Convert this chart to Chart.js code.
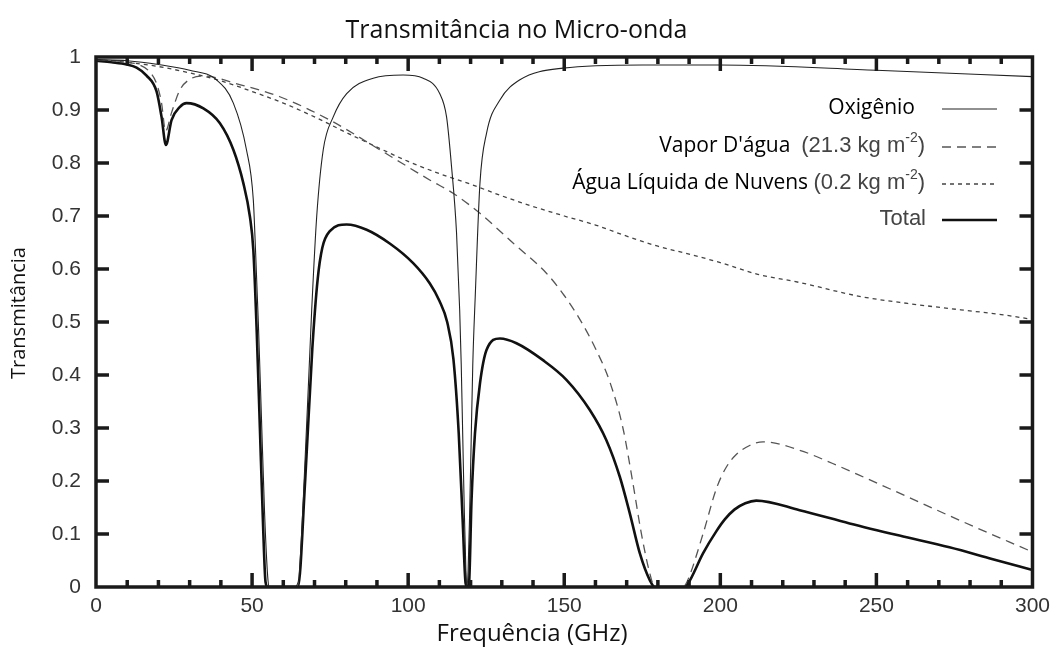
<!DOCTYPE html>
<html>
<head>
<meta charset="utf-8">
<title>Transmitância no Micro-onda</title>
<script src="https://cdn.jsdelivr.net/npm/chart.js@4.4.1/dist/chart.umd.min.js"></script>
<style>
  html, body { margin: 0; padding: 0; background: #fff; }
  #wrap { width: 1057px; height: 650px; }
</style>
</head>
<body>
<div id="wrap"><canvas id="grafico" width="1057" height="650"></canvas></div>
<script>
// Oxigênio
var oxFreq = [0, 10, 20, 30, 38.6, 44, 48.2, 50.4, 51.1, 52, 53, 54, 55, 55.5,
    63.5, 64.8, 66.4, 69.1, 70.7, 72.8, 76, 80.3, 88.8, 98.4, 104.8, 110.1, 112.3, 113.9, 115.5, 116.5,
    117, 117.5, 118, 118.5, 118.8, 119.2, 119.7, 120.2, 120.7, 121.5, 123, 125.1, 129.4, 135.8, 149.6,
    175, 199.8, 250, 300];
var oxVal = [0.995, 0.993, 0.986, 0.975, 0.957, 0.913, 0.825, 0.73, 0.636, 0.5, 0.32, 0.14, 0.02, 0,
    0, 0.01, 0.164, 0.523, 0.699, 0.825, 0.887, 0.931, 0.96, 0.966, 0.96, 0.931, 0.887, 0.793, 0.668, 0.523,
    0.42, 0.28, 0.14, 0.03, 0, 0.03, 0.14, 0.28, 0.42, 0.55, 0.762, 0.856, 0.919, 0.957, 0.979,
    0.985, 0.985, 0.975, 0.963];

// Vapor d'água
var h2oFreq = [0, 10, 14, 16.7, 19.4, 21, 22.3, 24.2, 26.9, 30.1, 34.4, 46, 58.9, 74.9, 90.9, 106.9,
    114.4, 123, 133.6, 144.3, 150, 155, 160, 164.6, 168.8, 172, 174.7, 177.4, 179, 188, 189.1,
    194.5, 198.7, 201.8, 205.1, 209.4, 213.7, 225.4, 236, 246.8, 257.4, 276.6, 300];
var h2oVal = [0.995, 0.99, 0.985, 0.975, 0.95, 0.913, 0.86, 0.895, 0.938, 0.958, 0.964, 0.948, 0.925, 0.881, 0.825, 0.768,
    0.743, 0.705, 0.649, 0.592, 0.55, 0.505, 0.45, 0.387, 0.3, 0.196, 0.101, 0.026, 0, 0, 0.007,
    0.101, 0.185, 0.225, 0.25, 0.267, 0.274, 0.258, 0.233, 0.205, 0.177, 0.126, 0.066];

// Água líquida de nuvens
var nuvFreq = [0, 10, 20, 30, 40, 50, 60, 70, 80, 90, 100, 110, 120, 130, 140, 150, 160, 170, 180,
    190, 200, 212, 225, 245, 260, 277, 290, 300];
var nuvVal = [0.995, 0.99, 0.982, 0.97, 0.955, 0.935, 0.913, 0.887, 0.858, 0.83, 0.803, 0.78, 0.76, 0.738,
    0.718, 0.7, 0.683, 0.662, 0.643, 0.628, 0.612, 0.59, 0.575, 0.548, 0.535, 0.523, 0.514, 0.505];

// Total
var totFreq = [0, 5, 9.8, 13, 16.2, 19.4, 21, 22.4, 24.2, 26.9, 29, 34.4, 39.7, 44, 47.2, 49.3, 50.4,
    51.5, 52.5, 53.5, 54.3, 55, 64.7, 67, 69.3, 71, 72.5, 75, 80.3, 86.7, 94.1, 101.6, 106.9, 110,
    112.5, 114.5, 116.2, 117.5, 118.4, 119, 119.5, 120.3, 121.4, 123, 125.1, 129.4, 134.7, 143.2, 150.7,
    158.2, 163.5, 167.8, 171, 174.2, 177.4, 179, 188.5, 189.7, 194.5, 198.7, 201.5, 204.5, 208, 211.5, 225.4, 241.4,
    257.4, 273.4, 287, 300];
var totVal = [0.993, 0.99, 0.986, 0.98, 0.965, 0.935, 0.887, 0.834, 0.881, 0.906, 0.913, 0.903, 0.875, 0.825, 0.762, 0.699, 0.636,
    0.48, 0.3, 0.12, 0.01, 0, 0, 0.2, 0.45, 0.58, 0.64, 0.672, 0.684, 0.674, 0.648, 0.611, 0.573, 0.54,
    0.5, 0.43, 0.29, 0.12, 0.007, 0, 0.007, 0.164, 0.29, 0.384, 0.447, 0.469, 0.46, 0.428, 0.391,
    0.334, 0.277, 0.208, 0.139, 0.064, 0.013, 0, 0, 0.007, 0.064, 0.105, 0.128, 0.146, 0.158, 0.163, 0.145, 0.12,
    0.097, 0.075, 0.053, 0.032];

var xTicksMaiores = [50, 100, 150, 200, 250];
var xTicksMenores = [10, 20, 30, 40, 60, 70, 80, 90, 110, 120, 130, 140, 160, 170, 180, 190, 210, 220, 230, 240, 260, 270, 280, 290];
var yTicks = [0.1, 0.2, 0.3, 0.4, 0.5, 0.6, 0.7, 0.8, 0.9];

function pontos(xs, ys) {
    var out = [];
    for (var i = 0; i < xs.length; i++) out.push({x: xs[i], y: ys[i]});
    return out;
}

var series = [
    {label: 'Oxigênio', data: pontos(oxFreq, oxVal), borderColor: '#222', borderWidth: 1.1, borderDash: []},
    {label: "Vapor D'água", data: pontos(h2oFreq, h2oVal), borderColor: '#555', borderWidth: 1.3, borderDash: [9, 6]},
    {label: 'Água Líquida de Nuvens', data: pontos(nuvFreq, nuvVal), borderColor: '#444', borderWidth: 1.3, borderDash: [4, 4]},
    {label: 'Total', data: pontos(totFreq, totVal), borderColor: '#111', borderWidth: 2.6, borderDash: []}
];

// moldura e marcas para dentro
var molduraPlugin = {
    id: 'moldura',
    afterDatasetsDraw: function(chart) {
        var ctx = chart.ctx, a = chart.chartArea;
        var xs = chart.scales.x, ys = chart.scales.y;
        ctx.save();
        ctx.strokeStyle = '#1a1a1a';
        ctx.lineWidth = 3.5;
        ctx.lineCap = 'butt';
        ctx.beginPath();
        xTicksMenores.forEach(function(v) {
            var px = xs.getPixelForValue(v);
            ctx.moveTo(px, a.bottom); ctx.lineTo(px, a.bottom - 7);
            ctx.moveTo(px, a.top); ctx.lineTo(px, a.top + 7);
        });
        xTicksMaiores.forEach(function(v) {
            var px = xs.getPixelForValue(v);
            ctx.moveTo(px, a.bottom); ctx.lineTo(px, a.bottom - 14);
            ctx.moveTo(px, a.top); ctx.lineTo(px, a.top + 14);
        });
        yTicks.forEach(function(v) {
            var py = ys.getPixelForValue(v);
            ctx.moveTo(a.left, py); ctx.lineTo(a.left + 13, py);
            ctx.moveTo(a.right, py); ctx.lineTo(a.right - 13, py);
        });
        ctx.stroke();
        ctx.strokeRect(a.left, a.top, a.right - a.left, a.bottom - a.top);
        ctx.restore();
    }
};

// titulos dos eixos (posicionados como no original)
var eixosPlugin = {
    id: 'eixos',
    afterDraw: function(chart) {
        var ctx = chart.ctx;
        ctx.save();
        ctx.fillStyle = '#111';
        ctx.textAlign = 'center';
        ctx.textBaseline = 'middle';
        ctx.font = '24px "Open Sans"';
        ctx.fillText('Frequência (GHz)', 532, 634);
        ctx.translate(19, 313);
        ctx.rotate(-Math.PI / 2);
        ctx.font = '20px "Open Sans"';
        ctx.fillText('Transmitância', 0, 0);
        ctx.restore();
    }
};

// legenda dentro do gráfico
var legendaPlugin = {
    id: 'legenda',
    afterDraw: function(chart) {
        var ctx = chart.ctx;
        var os = '21px "Open Sans"', ls = '22px "Liberation Sans"', sup = '14px "Liberation Sans"';
        var linhas = [
            {y: 108, fim: 915, partes: [['Oxigênio', os, '#000']]},
            {y: 146, fim: 925, partes: [["Vapor D'água  ", os, '#000'], ['(21.3 kg m', ls, '#444'], ['-2', sup, '#444', -8], [')', ls, '#444']]},
            {y: 183, fim: 925, partes: [['Água Líquida de Nuvens ', os, '#000'], ['(0.2 kg m', ls, '#444'], ['-2', sup, '#444', -8], [')', ls, '#444']]},
            {y: 219, fim: 926, partes: [['Total', ls, '#444']]}
        ];
        ctx.save();
        ctx.textBaseline = 'middle';
        ctx.textAlign = 'left';
        linhas.forEach(function(l, i) {
            var total = 0;
            l.partes.forEach(function(p) { ctx.font = p[1]; total += ctx.measureText(p[0]).width; });
            var x = l.fim - total;
            l.partes.forEach(function(p) {
                ctx.font = p[1];
                ctx.fillStyle = p[2];
                ctx.fillText(p[0], x, l.y + (p[3] || 0));
                x += ctx.measureText(p[0]).width;
            });
            var s = series[i];
            ctx.strokeStyle = s.borderColor;
            ctx.lineWidth = s.borderWidth;
            ctx.setLineDash(s.borderDash);
            ctx.beginPath();
            ctx.moveTo(942, l.y + 1);
            ctx.lineTo(997, l.y + 1);
            ctx.stroke();
            ctx.setLineDash([]);
        });
        ctx.restore();
    }
};

var ctx = document.getElementById('grafico').getContext('2d');
new Chart(ctx, {
    type: 'line',
    data: {
        datasets: series.map(function(s) {
            return {
                label: s.label,
                data: s.data,
                borderColor: s.borderColor,
                borderWidth: s.borderWidth,
                borderDash: s.borderDash,
                pointRadius: 0,
                fill: false,
                cubicInterpolationMode: 'monotone'
            };
        })
    },
    options: {
        responsive: false,
        animation: false,
        layout: {padding: {left: 0, right: 24, top: 0, bottom: 0}},
        scales: {
            x: {
                type: 'linear',
                min: 0, max: 300,
                grid: {display: false, drawTicks: false},
                border: {display: false},
                ticks: {stepSize: 50, padding: 7, color: '#333', font: {family: '"Liberation Sans"', size: 21}},
                afterFit: function(scale) { scale.height = 63; }
            },
            y: {
                min: 0, max: 1,
                grid: {display: false, drawTicks: false},
                border: {display: false},
                ticks: {
                    stepSize: 0.1, padding: 15, color: '#333', font: {family: '"Liberation Sans"', size: 21},
                    callback: function(v) { return String(+v.toFixed(1)); }
                },
                afterFit: function(scale) { scale.width = 96; }
            }
        },
        plugins: {
            legend: {display: false},
            tooltip: {enabled: false},
            title: {
                display: true,
                text: 'Transmitância no Micro-onda',
                color: '#111',
                font: {family: '"Open Sans"', size: 25, weight: 'normal'},
                padding: {top: 16, bottom: 11}
            }
        }
    },
    plugins: [molduraPlugin, eixosPlugin, legendaPlugin]
});
</script>
</body>
</html>
